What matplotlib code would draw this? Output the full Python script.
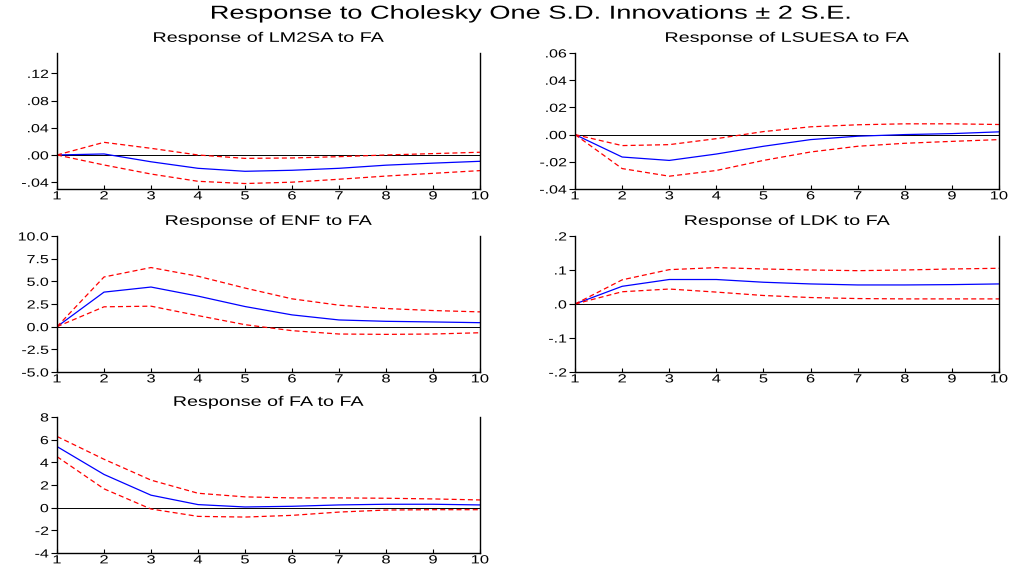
import numpy as np
import matplotlib.pyplot as plt
from matplotlib.patheffects import AbstractPathEffect
from matplotlib.transforms import Affine2D

plt.rcParams['font.family'] = ['Liberation Sans', 'DejaVu Sans']

steps = np.arange(1, 11)

# Response of LM2SA to FA
lm2sa_resp = [0.0, 0.0015, -0.010, -0.0196, -0.024, -0.0225, -0.0196, -0.015, -0.012, -0.0093]
lm2sa_hi = [0.0, 0.0186, 0.0098, 0.0, -0.005, -0.0044, -0.0025, 0.0, 0.002, 0.004]
lm2sa_lo = [0.0, -0.0147, -0.028, -0.0387, -0.042, -0.040, -0.0357, -0.031, -0.027, -0.023]

# Response of LSUESA to FA
lsuesa_resp = [0.0, -0.0165, -0.019, -0.0143, -0.0086, -0.0037, -0.0012, 0.0, 0.0007, 0.002]
lsuesa_hi = [0.0, -0.0081, -0.0074, -0.003, 0.0022, 0.0057, 0.0072, 0.0079, 0.0079, 0.0074]
lsuesa_lo = [0.0, -0.025, -0.0306, -0.0264, -0.019, -0.0128, -0.0086, -0.0064, -0.005, -0.0037]

# Response of ENF to FA
enf_resp = [0.0, 3.81, 4.37, 3.37, 2.22, 1.30, 0.74, 0.59, 0.52, 0.44]
enf_hi = [0.0, 5.48, 6.52, 5.56, 4.26, 3.07, 2.37, 2.00, 1.78, 1.63]
enf_lo = [0.0, 2.19, 2.26, 1.22, 0.22, -0.44, -0.81, -0.85, -0.81, -0.67]

# Response of LDK to FA
ldk_resp = [0.0, 0.052, 0.072, 0.072, 0.064, 0.059, 0.056, 0.056, 0.057, 0.059]
ldk_hi = [0.0, 0.071, 0.101, 0.107, 0.103, 0.100, 0.098, 0.100, 0.103, 0.105]
ldk_lo = [0.0, 0.036, 0.044, 0.035, 0.025, 0.019, 0.016, 0.015, 0.015, 0.015]

# Response of FA to FA
fa_resp = [5.39, 2.93, 1.10, 0.27, 0.06, 0.12, 0.24, 0.30, 0.30, 0.24]
fa_hi = [6.28, 4.27, 2.43, 1.27, 0.95, 0.86, 0.86, 0.83, 0.77, 0.68]
fa_lo = [4.50, 1.66, -0.12, -0.77, -0.83, -0.68, -0.39, -0.21, -0.18, -0.18]

panels = [
    ('Response of LM2SA to FA', lm2sa_resp, lm2sa_hi, lm2sa_lo,
     (-0.05, 0.15), [-0.04, 0.0, 0.04, 0.08, 0.12], ['-.04', '.00', '.04', '.08', '.12']),
    ('Response of LSUESA to FA', lsuesa_resp, lsuesa_hi, lsuesa_lo,
     (-0.04, 0.06), [-0.04, -0.02, 0.0, 0.02, 0.04, 0.06], ['-.04', '-.02', '.00', '.02', '.04', '.06']),
    ('Response of ENF to FA', enf_resp, enf_hi, enf_lo,
     (-5, 10), [-5, -2.5, 0, 2.5, 5, 7.5, 10], ['-5.0', '-2.5', '0.0', '2.5', '5.0', '7.5', '10.0']),
    ('Response of LDK to FA', ldk_resp, ldk_hi, ldk_lo,
     (-0.2, 0.2), [-0.2, -0.1, 0.0, 0.1, 0.2], ['-.2', '-.1', '.0', '.1', '.2']),
    ('Response of FA to FA', fa_resp, fa_hi, fa_lo,
     (-4, 8), [-4, -2, 0, 2, 4, 6, 8], ['-4', '-2', '0', '2', '4', '6', '8']),
]

# axes boxes in figure fractions (left, bottom, width, height)
boxes = [
    (0.0565, 0.6667, 0.4192, 0.2399),
    (0.5699, 0.6667, 0.4202, 0.2399),
    (0.0565, 0.3439, 0.4192, 0.2399),
    (0.5699, 0.3439, 0.4202, 0.2399),
    (0.0565, 0.0247, 0.4192, 0.2399),
]


class StretchX(AbstractPathEffect):
    """Widen glyphs horizontally, like the EViews export does."""

    def __init__(self, sx, anchor='center'):
        super().__init__()
        self.sx = sx
        self.anchor = anchor

    def draw_path(self, renderer, gc, tpath, affine, rgbFace=None):
        bb = tpath.get_extents(affine)
        if self.anchor == 'right':
            cx = bb.x1
        elif self.anchor == 'left':
            cx = bb.x0
        else:
            cx = 0.5 * (bb.x0 + bb.x1)
        stretch = Affine2D().translate(-cx, 0).scale(self.sx, 1).translate(cx, 0)
        renderer.draw_path(gc, tpath, affine + stretch, rgbFace)


fig = plt.figure(figsize=(10.09, 5.67), dpi=100)
sup = fig.text(0.526, 0.975, 'Response to Cholesky One S.D. Innovations \u00b1 2 S.E.',
               ha='center', va='center', fontsize=13.5)
sup.set_path_effects([StretchX(1.45)])

for box, (title, resp, hi, lo, ylim, yt, ytl) in zip(boxes, panels):
    ax = fig.add_axes(box)
    ax.axhline(0, color='black', linewidth=0.7)
    ax.plot(steps, resp, color='#0000ff', linewidth=0.9)
    ax.plot(steps, hi, color='#ff0000', linewidth=0.9, linestyle=(0, (4, 2.5)))
    ax.plot(steps, lo, color='#ff0000', linewidth=0.9, linestyle=(0, (4, 2.5)))
    ax.set_xlim(1, 10)
    ax.set_ylim(*ylim)
    ax.set_xticks(steps)
    ax.set_yticks(yt)
    ax.set_yticklabels(ytl)
    ax.spines['top'].set_visible(False)
    for s in ['left', 'right', 'bottom']:
        ax.spines[s].set_linewidth(1.0)
    ax.tick_params(axis='x', direction='in', length=3, pad=1, labelsize=8.5)
    ax.tick_params(axis='y', direction='out', length=4, pad=2, labelsize=8.5)
    t = ax.set_title(title, fontsize=10, pad=8)
    t.set_path_effects([StretchX(1.42)])
    for lab in ax.get_xticklabels():
        lab.set_path_effects([StretchX(1.4)])
    for lab in ax.get_yticklabels():
        lab.set_path_effects([StretchX(1.35, 'right')])

fig.savefig('out.png', dpi=100)
